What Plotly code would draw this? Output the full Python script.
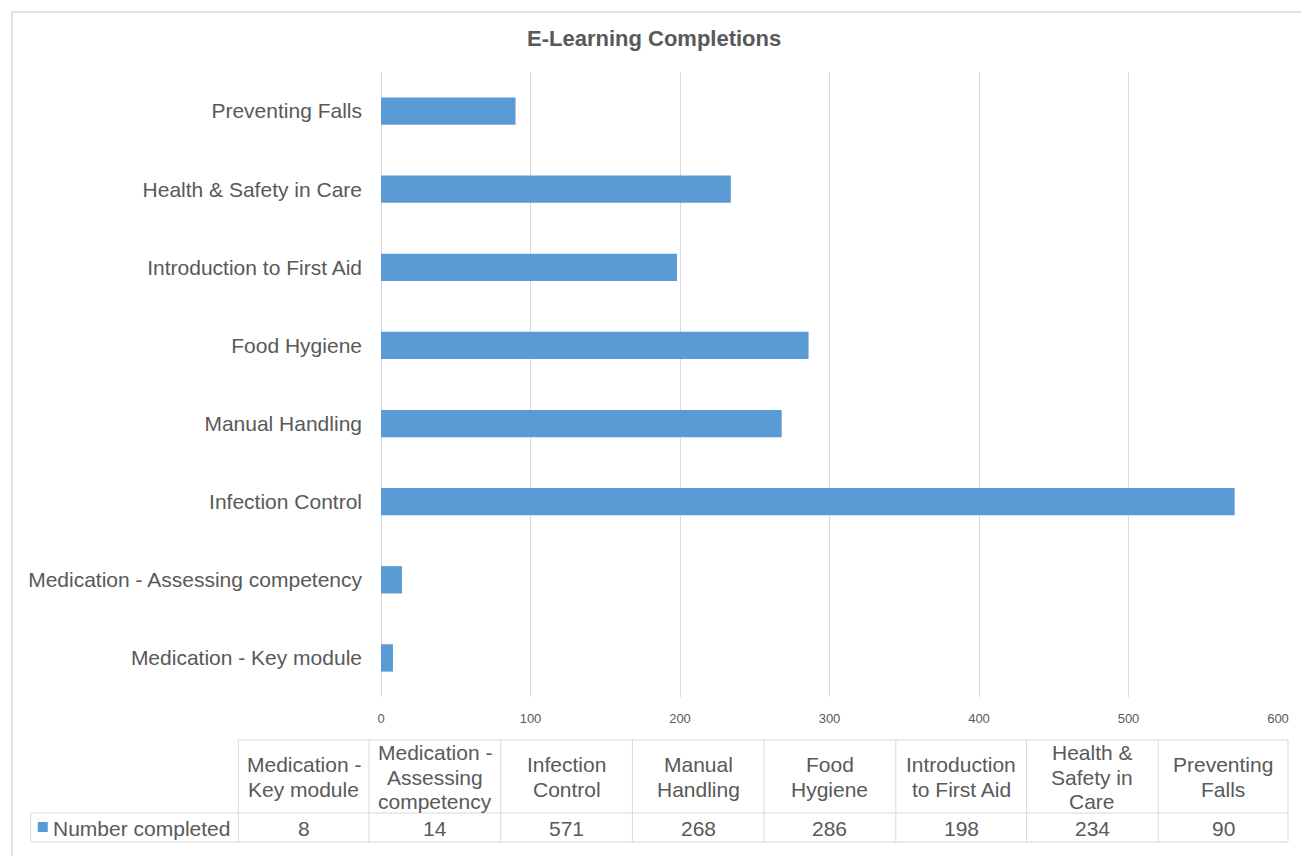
import plotly.graph_objects as go

# Courses (bottom to top on the chart) and completion counts
courses = [
    "Medication - Key module",
    "Medication - Assessing competency",
    "Infection Control",
    "Manual Handling",
    "Food Hygiene",
    "Introduction to First Aid",
    "Health & Safety in Care",
    "Preventing Falls",
]
completed = [8, 14, 571, 268, 286, 198, 234, 90]

# Wrapped course names used as headers of the data table
table_headers = [
    ["Medication -", "Key module"],
    ["Medication -", "Assessing", "competency"],
    ["Infection", "Control"],
    ["Manual", "Handling"],
    ["Food", "Hygiene"],
    ["Introduction", "to First Aid"],
    ["Health &", "Safety in", "Care"],
    ["Preventing", "Falls"],
]
series_name = "Number completed"
x_ticks = [0, 100, 200, 300, 400, 500, 600]

TEXT = "#595959"
GRID = "#D9D9D9"
BAR = "#5B9BD5"
FONT = "Liberation Sans, Arial, sans-serif"

W, H = 1301, 856
L, R, T, B = 381, 21, 72, 159
PW, PH = W - L - R, H - T - B


def px(x):
    return (x - L) / PW


def py(y):
    return (H - B - y) / PH


fig = go.Figure(
    go.Bar(
        x=completed,
        y=courses,
        orientation="h",
        marker=dict(color=BAR, line=dict(width=0)),
        width=0.35,
        name=series_name,
        showlegend=False,
    )
)

shapes = []
annotations = []

# Outer chart border
shapes.append(dict(type="rect", xref="paper", yref="paper",
                   x0=px(11), x1=px(1320), y0=py(12), y1=py(880),
                   line=dict(color=GRID, width=1.5), fillcolor="rgba(0,0,0,0)", layer="below"))

# Data table grid
col_edges = [238, 369, 501, 633, 765, 897, 1028, 1160, 1290]
row_top, row_mid, row_bot = 740, 813, 842
line_style = dict(color=GRID, width=1)
shapes.append(dict(type="line", xref="paper", yref="paper",
                   x0=px(col_edges[0]), x1=px(col_edges[-1]), y0=py(row_top), y1=py(row_top), line=line_style))
for yy in (row_mid, row_bot):
    shapes.append(dict(type="line", xref="paper", yref="paper",
                       x0=px(30), x1=px(col_edges[-1]), y0=py(yy), y1=py(yy), line=line_style))
shapes.append(dict(type="line", xref="paper", yref="paper",
                   x0=px(30), x1=px(30), y0=py(row_mid), y1=py(row_bot), line=line_style))
for xe in col_edges:
    shapes.append(dict(type="line", xref="paper", yref="paper",
                       x0=px(xe), x1=px(xe), y0=py(row_top), y1=py(row_bot), line=line_style))

# Table header (one annotation per wrapped line, for tight line spacing) and value cells
LINE_GAP = 24.5
header_mid = 777
for i, (hdr, val) in enumerate(zip(table_headers, completed)):
    cx = (col_edges[i] + col_edges[i + 1]) / 2
    n = len(hdr)
    for k, part in enumerate(hdr):
        yy = header_mid + (k - (n - 1) / 2) * LINE_GAP
        annotations.append(dict(xref="paper", yref="paper", x=px(cx), y=py(yy),
                                text=part, showarrow=False, xanchor="center", yanchor="middle",
                                font=dict(family=FONT, size=21, color=TEXT)))
    annotations.append(dict(xref="paper", yref="paper", x=px(cx), y=py((row_mid + row_bot) / 2 + 1),
                            text=str(val), showarrow=False, xanchor="center", yanchor="middle",
                            font=dict(family=FONT, size=21, color=TEXT)))

# Legend key in the table
shapes.append(dict(type="rect", xref="paper", yref="paper",
                   x0=px(37), x1=px(47), y0=py(822), y1=py(832),
                   line=dict(width=0), fillcolor=BAR))
annotations.append(dict(xref="paper", yref="paper", x=px(50), y=py(828),
                        text=series_name, showarrow=False, xanchor="left", yanchor="middle",
                        font=dict(family=FONT, size=21, color=TEXT)))

# Title
annotations.append(dict(xref="paper", yref="paper", x=px(655), y=py(38),
                        text="<b>E-Learning Completions</b>", showarrow=False,
                        xanchor="center", yanchor="middle",
                        font=dict(family=FONT, size=22, color=TEXT)))

fig.update_layout(
    width=W, height=H, autosize=False,
    margin=dict(l=L, r=R, t=T, b=B),
    paper_bgcolor="white", plot_bgcolor="white",
    font=dict(family=FONT, color=TEXT),
    bargap=0.65,
    shapes=shapes,
    annotations=annotations,
    xaxis=dict(
        range=[0, 600], tickvals=x_ticks, ticktext=[str(t) for t in x_ticks],
        showgrid=True, gridcolor=GRID, gridwidth=1,
        zeroline=True, zerolinecolor=GRID, zerolinewidth=1,
        showline=False, ticks="", ticklabelstandoff=12,
        tickfont=dict(family=FONT, size=13, color=TEXT),
        fixedrange=True,
    ),
    yaxis=dict(
        categoryorder="array", categoryarray=courses,
        range=[-0.5, 7.5], showgrid=False, zeroline=False, showline=False,
        ticks="", ticklabelstandoff=18,
        tickfont=dict(family=FONT, size=21, color=TEXT),
        fixedrange=True,
    ),
)

fig.write_html("out.html")
